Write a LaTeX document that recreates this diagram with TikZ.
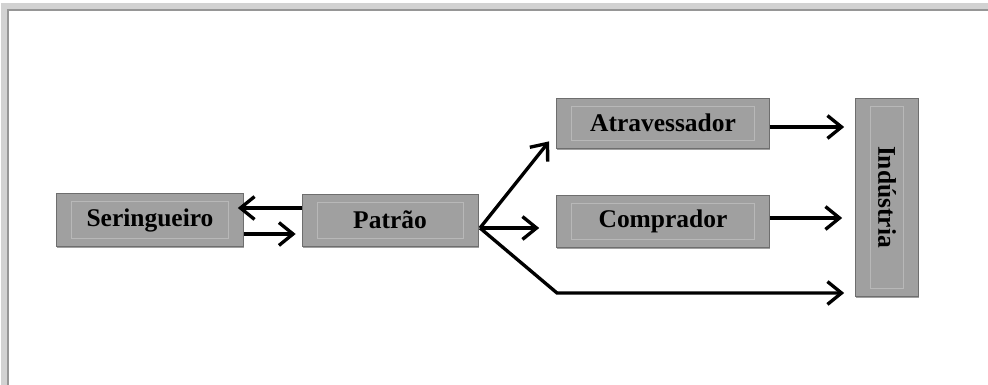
\documentclass[tikz,border=0pt]{standalone}
\usepackage{fontspec}
\setmainfont{Liberation Serif}
\usepackage{tikz}
\usetikzlibrary{
    positioning,
    arrows.meta,
    shadows
}
\definecolor{boxGray}{RGB}{160, 160, 160}
\definecolor{edgeGray}{RGB}{110, 110, 110}
\definecolor{frameGray}{RGB}{150, 150, 150}

\tikzset{
    caixa/.style={
        rectangle, fill=boxGray, draw=edgeGray, thin,
        font=\fontsize{14.5}{16}\selectfont\bfseries,
        drop shadow={shadow xshift=0.4pt, shadow yshift=-1pt, opacity=0.75},
        path picture={
            \draw[boxGray!75!white, very thin]
                ([shift={(0.3cm,-0.16cm)}]path picture bounding box.north west)
                rectangle
                ([shift={(-0.3cm,0.16cm)}]path picture bounding box.south east);
        }
    },
    fluxo/.style={-{Straight Barb[length=8pt, width=13pt]}, line width=1.9pt}
}

\begin{document}
\begin{tikzpicture}[x=0.02cm, y=-0.02cm]
    \useasboundingbox (0,0) rectangle (988,385);
    % window frame
    \draw[gray!35, line width=3pt] (4,385) -- (4,6) -- (988,6);
    \draw[frameGray, line width=1.2pt] (8,385) -- (8,10) -- (988,10);

    % boxes
    \node[caixa, minimum width=3.74cm, minimum height=1.06cm] (ser) at (150,220) {Seringueiro};
    \node[caixa, minimum width=3.52cm, minimum height=1.04cm] (pat) at (390,220) {Patrão};
    \node[caixa, minimum width=4.26cm, minimum height=1.0cm] (atr) at (663,123) {Atravessador};
    \node[caixa, minimum width=4.26cm, minimum height=1.04cm] (com) at (663,221) {Comprador};
    \node[caixa, minimum width=1.26cm, minimum height=3.96cm] (ind) at (887,197) {\rotatebox{-90}{Indústria}};

    % exit point of Patrao and the bend of the lower route
    \coordinate (saida) at (480,228);
    \coordinate (dobra) at (557,293);

    % seringueiro <-> patrao
    \draw[fluxo] (pat.west |- 0,208) -- ([xshift=-0.12cm]ser.east |- 0,208);
    \draw[fluxo] (ser.east |- 0,234) -- ([xshift=-0.12cm]pat.west |- 0,234);

    % patrao -> buyers
    \draw[fluxo] (saida) -- ([xshift=-0.14cm,yshift=0.14cm]atr.south west);
    \draw[fluxo] (saida) -- ([xshift=-0.34cm]com.west |- saida);
    \draw[fluxo] (saida) -- (dobra) -- ([xshift=-0.22cm]ind.west |- dobra);

    % buyers -> industria
    \draw[fluxo] (atr.east |- 0,127) -- ([xshift=-0.22cm]ind.west |- 0,127);
    \draw[fluxo] (com.east |- 0,218) -- ([xshift=-0.26cm]ind.west |- 0,218);
\end{tikzpicture}
\end{document}
